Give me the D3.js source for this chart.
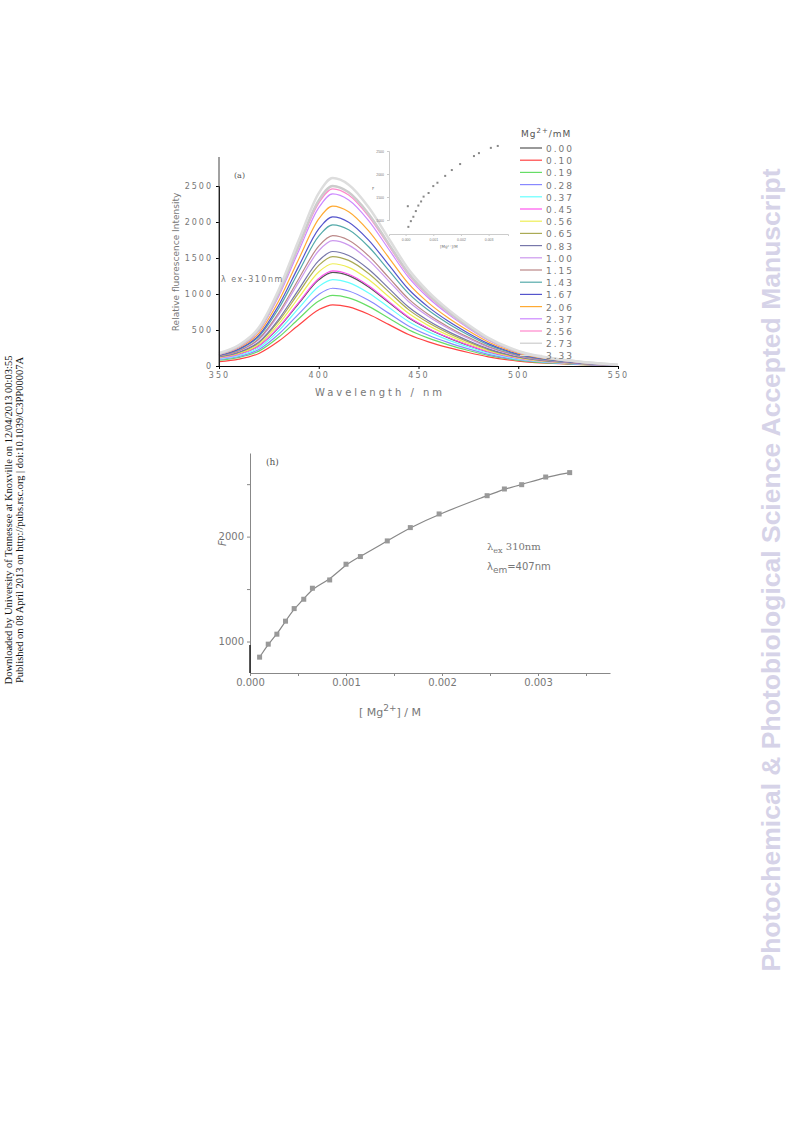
<!DOCTYPE html><html><head><meta charset="utf-8">
<script src="https://cdn.jsdelivr.net/npm/d3@7"></script>
<style>body{margin:0;background:#fff}</style></head><body>
<svg id="c" width="793" height="1123"></svg>
<script>
const concLabels=["0.00","0.10","0.19","0.28","0.37","0.45","0.56","0.65","0.83","1.00","1.15","1.43","1.67","2.06","2.37","2.56","2.73","3.33"];
const colors=["#555","#f44","#6d6","#88f","#6ff","#f5e","#ee5","#aa5","#77a","#c9e","#b88","#5aa","#55c","#fa3","#c8f","#f8c","#ccc","#ddd"];
const peaks=[1300,850,980,1080,1200,1320,1420,1520,1590,1740,1810,1960,2070,2220,2390,2460,2500,2610];
const base350=[120,60,80,90,100,110,120,130,130,140,140,150,150,160,160,170,170,180];
const waves=[350,360,370,380,390,400,407,415,425,435,445,455,465,475,485,500,525,550];
const shape=[0,0.06,0.17,0.39,0.67,0.92,1,0.965,0.845,0.68,0.515,0.395,0.3,0.22,0.15,0.08,0.03,0.006];
const mgM=[0.0001,0.00019,0.00028,0.00037,0.00046,0.00056,0.00065,0.00083,0.0010,0.00115,0.00143,0.00167,0.00197,0.00247,0.00265,0.00283,0.00308,0.00333];
const F=[851,975,1070,1194,1314,1403,1508,1587,1737,1810,1959,2086,2216,2390,2454,2495,2568,2610];
const insetX=[0.00008,0.0001,0.00019,0.00028,0.00037,0.00046,0.00056,0.00065,0.00083,0.0010,0.00115,0.00143,0.00167,0.00197,0.00247,0.00265,0.00308,0.00333];
const insetF=[1300,851,975,1070,1194,1314,1403,1508,1587,1737,1810,1959,2086,2216,2390,2454,2568,2610];

const svg=d3.select("#c");
const gray="#777";
// ---- panel a
const xa=d3.scaleLinear().domain([350,550]).range([219,618]);
const ya=d3.scaleLinear().domain([0,2500]).range([366,186]);
const la=d3.line().x(d=>xa(d[0])).y(d=>ya(d[1])).curve(d3.curveMonotoneX);
peaks.forEach((p,i)=>{
  const pts=waves.map((w,j)=>[w, p*shape[j]+base350[i]*Math.max(0,1-(w-350)/40)]);
  svg.append("path").attr("d",la(pts)).attr("fill","none").attr("stroke",colors[i]).attr("stroke-width",i>=16?2.5:1.2);
});
svg.append("g").attr("transform","translate(0,366)").call(d3.axisBottom(xa).tickValues([350,400,450,500,550]).tickSize(3));
svg.append("g").attr("transform","translate(219,0)").call(d3.axisLeft(ya).tickValues([0,500,1000,1500,2000,2500]).tickFormat(d3.format("d")).tickSize(3));
svg.append("line").attr("x1",219).attr("x2",219).attr("y1",157).attr("y2",366).attr("stroke","#444");
svg.selectAll(".tick text").attr("font-family","DejaVu Sans").attr("font-size",8).attr("fill",gray).attr("letter-spacing",2);
svg.append("text").attr("x",380).attr("y",396).attr("text-anchor","middle").attr("font-family","DejaVu Sans").attr("font-size",10).attr("letter-spacing",3).attr("fill",gray).text("Wavelength / nm");
svg.append("text").attr("transform","translate(179,262) rotate(-90)").attr("text-anchor","middle").attr("font-family","DejaVu Sans").attr("font-size",9).attr("fill",gray).text("Relative fluorescence Intensity");
svg.append("text").attr("x",234).attr("y",178).attr("font-family","DejaVu Serif").attr("font-size",8).attr("fill","#555").text("(a)");
svg.append("text").attr("x",221).attr("y",282).attr("font-family","DejaVu Sans").attr("font-size",8).attr("letter-spacing",1.5).attr("fill",gray).text("λ ex-310nm");
// legend
svg.append("text").attr("x",521).attr("y",137).attr("font-family","DejaVu Sans").attr("font-size",9).attr("letter-spacing",1).attr("fill","#555").html('Mg<tspan dy="-4" font-size="7">2+</tspan><tspan dy="4">/mM</tspan>');
concLabels.forEach((c,i)=>{
  const y=148+i*12.2;
  svg.append("line").attr("x1",520).attr("x2",542).attr("y1",y).attr("y2",y).attr("stroke",colors[i]).attr("stroke-width",1.2);
  svg.append("text").attr("x",546).attr("y",y+4).attr("font-family","DejaVu Sans").attr("font-size",9).attr("letter-spacing",2).attr("fill",gray).text(c);
});
// inset
const xi=d3.scaleLinear().domain([-0.0006,0.0037]).range([389,508]);
const yi=d3.scaleLinear().domain([1000,2500]).range([220,151]);
svg.append("rect").attr("x",389).attr("y",138).attr("width",119).attr("height",96).attr("fill","#fff");
svg.append("g").attr("transform","translate(0,234)").call(g=>{g.call(d3.axisBottom(xi).tickValues([0,0.001,0.002,0.003]).tickFormat(d3.format(".3f")).tickSize(2));g.selectAll("text").attr("font-size",3.5).attr("fill",gray);g.selectAll("path,line").attr("stroke","#ccc");});
svg.append("g").attr("transform","translate(389,0)").call(g=>{g.call(d3.axisLeft(yi).tickValues([1000,1500,2000,2500]).tickFormat(d3.format("d")).tickSize(2));g.selectAll("text").attr("font-size",3.5).attr("fill",gray);g.selectAll("path,line").attr("stroke","#ccc");});
svg.selectAll(".ins").data(insetX).enter().append("rect").attr("x",(d)=>xi(d)-1).attr("y",(d,i)=>yi(insetF[i])-1).attr("width",2).attr("height",2).attr("fill","#888");
svg.append("text").attr("x",440).attr("y",248).attr("font-size",4).attr("fill",gray).attr("font-family","DejaVu Sans").text("[Mg²⁺]/M");
svg.append("text").attr("x",372).attr("y",190).attr("font-size",4).attr("fill",gray).attr("font-family","DejaVu Sans").text("F");
// ---- panel b
const xb=d3.scaleLinear().domain([0,0.00375]).range([250,610]);
const yb=d3.scaleLinear().domain([700,2797]).range([673,453]);
svg.append("path").attr("d",d3.line().x((d,i)=>xb(mgM[i])).y(d=>yb(d)).curve(d3.curveBasis)(F)).attr("fill","none").attr("stroke","#888").attr("stroke-width",1.2);
svg.selectAll(".pb").data(F).enter().append("rect").attr("x",(d,i)=>xb(mgM[i])-2.5).attr("y",d=>yb(d)-2.5).attr("width",5).attr("height",5).attr("fill","#999");
const gx=svg.append("g").attr("transform","translate(0,673)").call(d3.axisBottom(xb).tickValues([0,0.0005,0.001,0.0015,0.002,0.0025,0.003,0.0035]).tickFormat(d=>[0,0.001,0.002,0.003].some(v=>Math.abs(v-d)<1e-9)?d3.format(".3f")(d):"").tickSize(3).tickSizeOuter(0));
const gy=svg.append("g").attr("transform","translate(250,0)").call(d3.axisLeft(yb).tickValues([1000,1500,2000,2500]).tickFormat(d=>d%1000===0?d:"").tickSize(3).tickSizeOuter(0));
[gx,gy].forEach(g=>{g.selectAll("text").attr("font-family","DejaVu Sans").attr("font-size",10).attr("fill",gray);g.selectAll("path,line").attr("stroke","#888");});
svg.append("line").attr("x1",250).attr("x2",250).attr("y1",645).attr("y2",673).attr("stroke","#222").attr("stroke-width",1.5);
svg.append("text").attr("x",390).attr("y",716).attr("text-anchor","middle").attr("font-family","DejaVu Sans").attr("font-size",11).attr("fill",gray).html('[ Mg<tspan dy="-5" font-size="9">2+</tspan><tspan dy="5">] / M</tspan>');
svg.append("text").attr("transform","translate(226,546) rotate(-90)").attr("font-family","DejaVu Sans").attr("font-style","italic").attr("font-size",10).attr("fill",gray).text("F");
svg.append("text").attr("x",266).attr("y",465).attr("font-family","DejaVu Serif").attr("font-size",9).attr("fill","#555").text("(h)");
svg.append("text").attr("x",487).attr("y",550).attr("font-family","DejaVu Serif").attr("font-size",10).attr("fill",gray).html('λ<tspan dy="3" font-size="8">ex</tspan><tspan dy="-3"> 310nm</tspan>');
svg.append("text").attr("x",487).attr("y",570).attr("font-family","DejaVu Sans").attr("font-size",10).attr("fill",gray).html('λ<tspan dy="3" font-size="9">em</tspan><tspan dy="-3">=407nm</tspan>');
// side texts
svg.append("text").attr("transform","translate(12,520) rotate(-90)").attr("text-anchor","middle").attr("font-family","Liberation Serif").attr("font-size",10.5).attr("fill","#111").text("Downloaded by University of Tennessee at Knoxville on 12/04/2013 00:03:55");
svg.append("text").attr("transform","translate(23,520) rotate(-90)").attr("text-anchor","middle").attr("font-family","Liberation Serif").attr("font-size",10.5).attr("fill","#111").text("Published on 08 April 2013 on http://pubs.rsc.org | doi:10.1039/C3PP00007A");
svg.append("text").attr("transform","translate(780,570) rotate(-90)").attr("text-anchor","middle").attr("font-family","Liberation Sans").attr("font-weight","bold").attr("font-size",26.5).attr("fill","#d6d3e8").text("Photochemical & Photobiological Science Accepted Manuscript");
</script></body></html>
